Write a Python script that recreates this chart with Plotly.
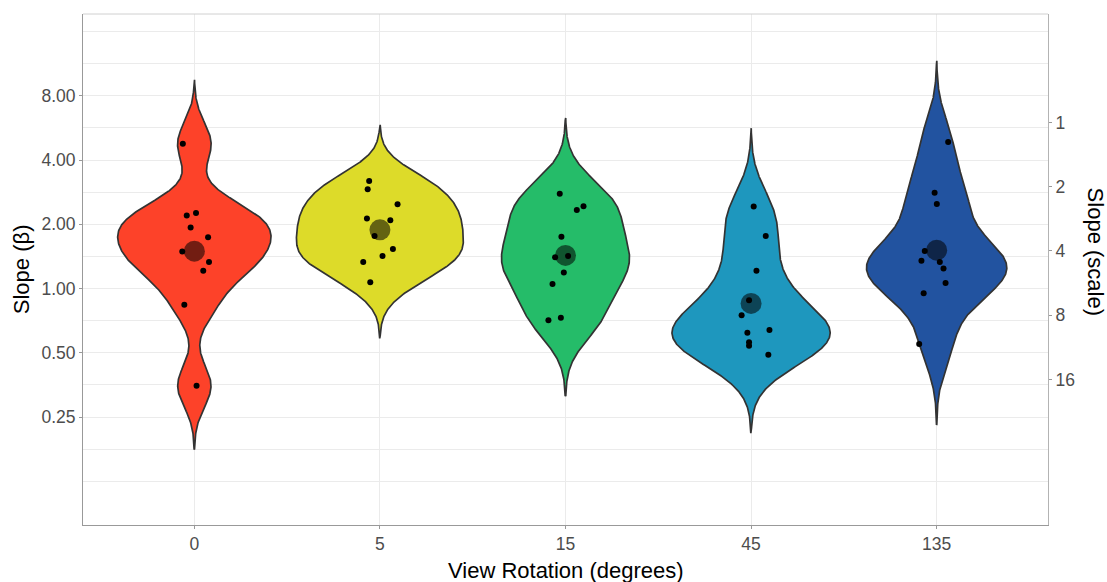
import numpy as np
import plotly.graph_objects as go

# View rotation conditions (degrees)
rotations = ["0", "5", "15", "45", "135"]

# Per-participant slope estimates (beta) for each rotation
slope_0 = [4.77, 2.20, 2.26, 1.93, 1.74, 1.49, 1.33, 1.21, 0.84, 0.35]
slope_5 = [3.19, 2.92, 2.48, 2.13, 2.09, 1.76, 1.53, 1.42, 1.33, 1.07]
slope_15 = [2.78, 2.33, 2.43, 1.75, 1.40, 1.42, 1.19, 1.05, 0.73, 0.71]
slope_45 = [2.42, 1.76, 1.21, 0.88, 0.75, 0.62, 0.64, 0.56, 0.54, 0.49]
slope_135 = [4.86, 2.81, 2.49, 1.50, 1.35, 1.33, 1.24, 1.06, 0.95, 0.55]

# Horizontal jitter of the individual points (category units)
jitter_0 = [-0.062, -0.041, 0.009, -0.020, 0.074, -0.065, 0.079, 0.048, -0.054, 0.012]
jitter_5 = [-0.058, -0.066, 0.095, -0.070, 0.056, -0.029, 0.070, 0.014, -0.090, -0.052]
jitter_15 = [-0.031, 0.061, 0.097, -0.022, -0.056, 0.014, -0.009, -0.070, -0.025, -0.092]
jitter_45 = [0.014, 0.079, 0.029, -0.011, -0.051, -0.020, 0.099, -0.011, -0.011, 0.093]
jitter_135 = [0.062, -0.011, 0.001, -0.064, -0.082, 0.017, 0.037, 0.048, -0.070, -0.094]

# Axis ticks
beta_ticks = [0.25, 0.5, 1, 2, 4, 8]
beta_labels = ["0.25", "0.50", "1.00", "2.00", "4.00", "8.00"]
scale_ticks = [1, 2, 4, 8, 16]
scale_const = 6.0  # scale = scale_const / beta

fill_colors = ["#FD4229", "#DDDB29", "#25BC69", "#1E97BE", "#2253A0"]

groups = [slope_0, slope_5, slope_15, slope_45, slope_135]
jitters = [jitter_0, jitter_5, jitter_15, jitter_45, jitter_135]


def kde(values_log):
    """Gaussian KDE in log space with the nrd0 bandwidth, extended 3 bw past the data."""
    v = np.asarray(values_log, dtype=float)
    n = len(v)
    sd = v.std(ddof=1)
    q1, q3 = np.percentile(v, [25, 75])
    bw = 0.9 * min(sd, (q3 - q1) / 1.34) * n ** -0.2
    grid = np.linspace(v.min() - 3 * bw, v.max() + 3 * bw, 512)
    z = (grid[:, None] - v[None, :]) / bw
    dens = np.exp(-0.5 * z ** 2).sum(axis=1) / (n * bw * np.sqrt(2 * np.pi))
    return grid, dens


kdes = [kde(np.log2(g)) for g in groups]
max_dens = max(d.max() for _, d in kdes)

fig = go.Figure()

# Violins (area-scaled, width 0.9)
for i, (grid, dens) in enumerate(kdes):
    hw = 0.45 * dens / max_dens
    xs = np.concatenate([i - hw, (i + hw)[::-1], [i - hw[0]]])
    ys = 2 ** np.concatenate([grid, grid[::-1], [grid[0]]])
    fig.add_trace(go.Scatter(
        x=xs, y=ys, mode="lines", fill="toself",
        fillcolor=fill_colors[i],
        line=dict(color="#333333", width=1.7),
        showlegend=False, hoverinfo="skip",
    ))

# Individual points
for i, (g, jit) in enumerate(zip(groups, jitters)):
    fig.add_trace(go.Scatter(
        x=[i + j for j in jit], y=g, mode="markers",
        marker=dict(color="black", size=6),
        showlegend=False,
    ))

# Geometric means
means = [float(2 ** np.mean(np.log2(g))) for g in groups]
fig.add_trace(go.Scatter(
    x=list(range(len(groups))), y=means, mode="markers",
    marker=dict(color="rgba(0,0,0,0.55)", size=21),
    showlegend=False,
))

# Secondary axis carrier
fig.add_trace(go.Scatter(x=[None], y=[None], yaxis="y2", showlegend=False))

y_range = [np.log10(2 ** -3.680), np.log10(2 ** 4.272)]
grid_minor = [2 ** (k / 2) for k in range(-6, 9) if k % 2 != 0] + [0.125, 16]

tick_font = dict(family="Liberation Sans, Arial, sans-serif", size=17.5, color="#4d4d4d")
title_font = dict(family="Liberation Sans, Arial, sans-serif", size=22, color="black")

fig.update_layout(
    width=1107, height=582,
    margin=dict(l=83, r=59, t=14, b=57),
    paper_bgcolor="white", plot_bgcolor="white",
    font=dict(family="Liberation Sans, Arial, sans-serif"),
    xaxis=dict(
        range=[-0.6, 4.6], tickvals=list(range(5)), ticktext=rotations,
        showgrid=True, gridcolor="#ebebeb", gridwidth=1,
        showline=True, linecolor="#999999", linewidth=1,
        ticks="outside", ticklen=3, tickcolor="#999999",
        tickfont=tick_font, zeroline=False,
    ),
    yaxis=dict(
        type="log", range=y_range,
        tickvals=beta_ticks, ticktext=beta_labels,
        showgrid=True, gridcolor="#ebebeb", gridwidth=1,
        minor=dict(tickvals=grid_minor, showgrid=True, gridcolor="#ebebeb",
                   gridwidth=1, ticks=""),
        showline=True, linecolor="#999999", linewidth=1,
        ticks="outside", ticklen=3, tickcolor="#999999",
        tickfont=tick_font, zeroline=False,
    ),
    yaxis2=dict(
        type="log", range=y_range, overlaying="y", side="right",
        tickvals=[scale_const / s for s in scale_ticks],
        ticktext=[str(s) for s in scale_ticks],
        showgrid=False, showline=True, linecolor="#b3b3b3", linewidth=1,
        ticks="outside", ticklen=3, tickcolor="#999999",
        tickfont=tick_font, zeroline=False,
    ),
    shapes=[dict(type="line", xref="paper", yref="paper", x0=0, x1=1, y0=1, y1=1,
                 line=dict(color="#d0d0d0", width=1))],
    annotations=[
        dict(text="View Rotation (degrees)", xref="paper", yref="paper",
             x=0.5, y=-0.089, xanchor="center", yanchor="middle", showarrow=False,
             font=title_font),
        dict(text="Slope (β)", xref="paper", yref="paper",
             x=-0.0635, y=0.5, xanchor="center", yanchor="middle", showarrow=False,
             textangle=-90, font=title_font),
        dict(text="Slope (scale)", xref="paper", yref="paper",
             x=1.0487, y=0.535, xanchor="center", yanchor="middle", showarrow=False,
             textangle=90, font=title_font),
    ],
)

fig.write_html("out.html")
